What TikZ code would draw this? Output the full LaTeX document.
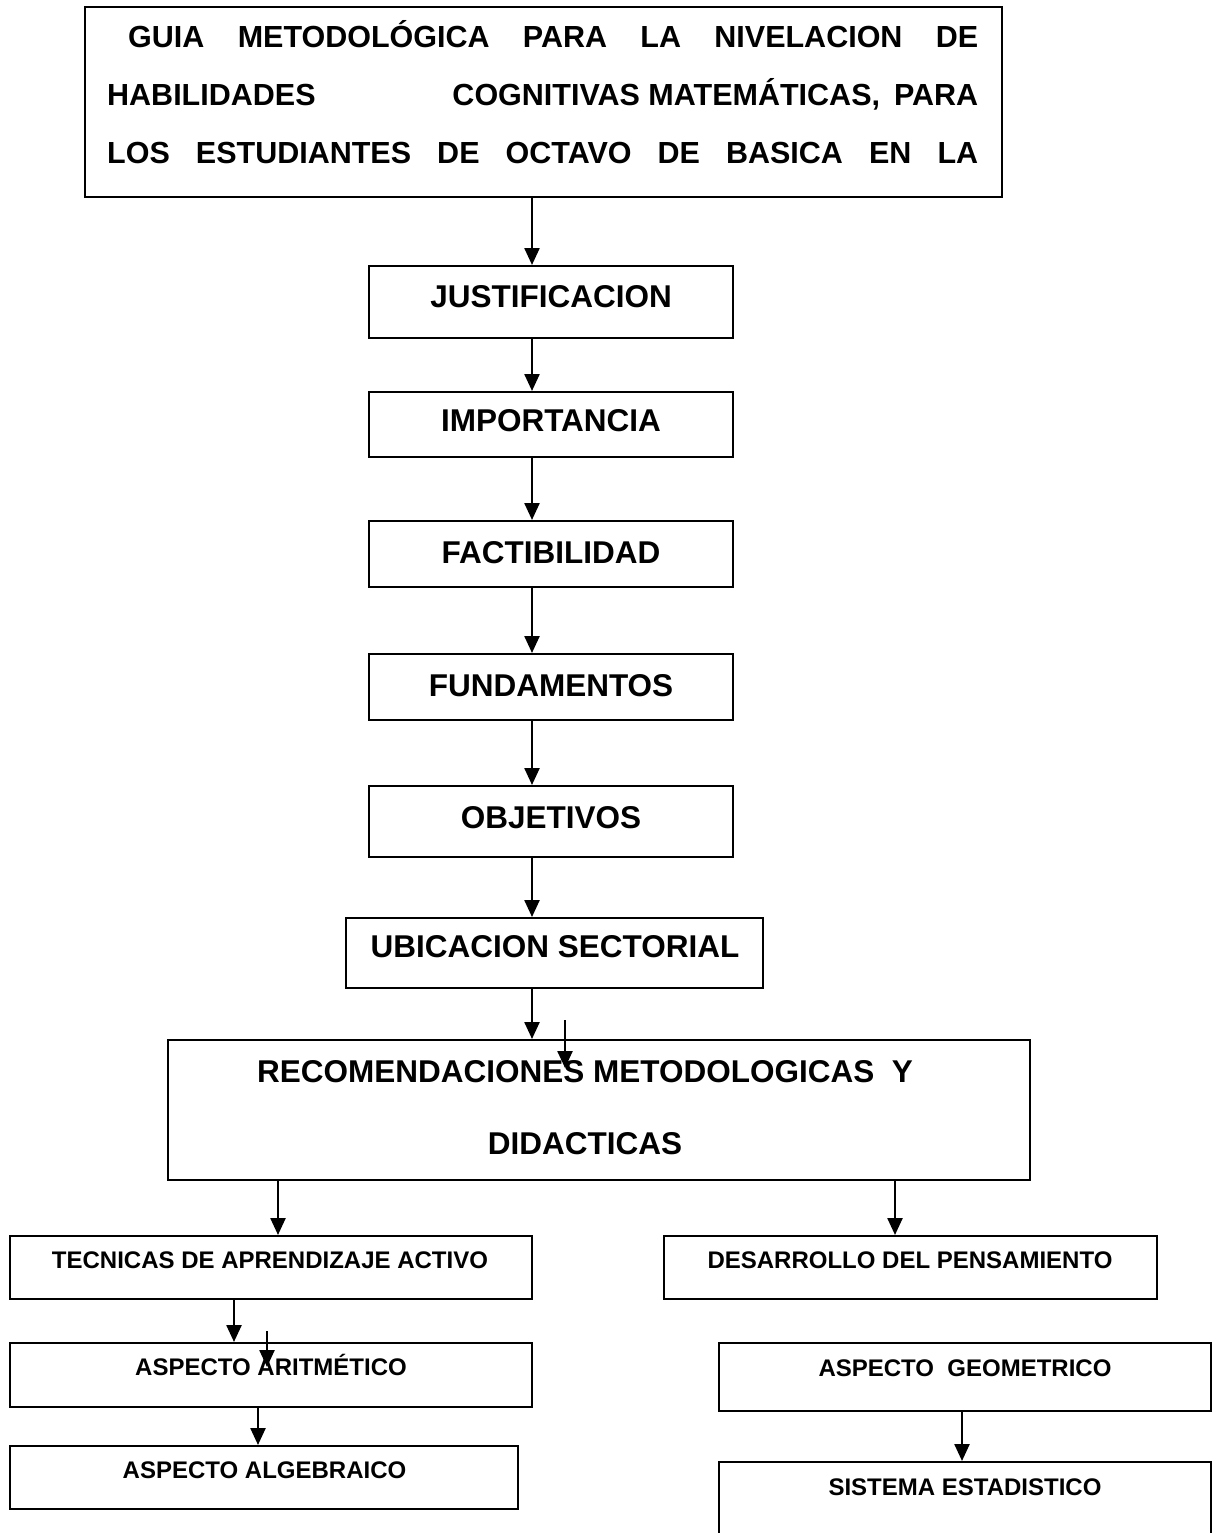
\documentclass[tikz,border=0pt]{standalone}
\usepackage{fontspec}
\setmainfont{Liberation Sans}
\usetikzlibrary{arrows.meta}
\begin{document}
\begin{tikzpicture}[x=1pt,y=-1pt,
  bx/.style={draw, line width=2pt, inner sep=0pt, rectangle},
  arr/.style={line width=2.4pt, -{Triangle[length=17pt,width=15pt]}},
  big/.style={font=\fontsize{31.5}{38}\selectfont\bfseries, inner sep=0pt, anchor=base},
  small/.style={font=\fontsize{24}{29}\selectfont\bfseries, inner sep=0pt, anchor=base},
  ttl/.style={font=\fontsize{30.5}{36}\selectfont\bfseries, inner sep=0pt, anchor=base west}]
\path[use as bounding box] (0,0) rectangle (1220,1533);
\clip (0,0) rectangle (1220,1533);

% boxes
\node[bx, minimum width=917pt, minimum height=190pt] (top) at (543.5,102) {};
\node[bx, minimum width=364pt, minimum height=72pt] (jus) at (551,302) {};
\node[bx, minimum width=364pt, minimum height=65pt] (imp) at (551,424.5) {};
\node[bx, minimum width=364pt, minimum height=66pt] (fac) at (551,554) {};
\node[bx, minimum width=364pt, minimum height=66pt] (fun) at (551,687) {};
\node[bx, minimum width=364pt, minimum height=71pt] (obj) at (551,821.5) {};
\node[bx, minimum width=417pt, minimum height=70pt] (ubi) at (554.5,953) {};
\node[bx, minimum width=862pt, minimum height=140pt] (rec) at (599,1110) {};
\node[bx, minimum width=522pt, minimum height=63pt] (tec) at (271,1267.5) {};
\node[bx, minimum width=493pt, minimum height=63pt] (des) at (910.5,1267.5) {};
\node[bx, minimum width=522pt, minimum height=64pt] (ari) at (271,1375) {};
\node[bx, minimum width=508pt, minimum height=63pt] (alg) at (264,1477.5) {};
\node[bx, minimum width=492pt, minimum height=68pt] (geo) at (965,1377) {};
\node[bx, minimum width=492pt, minimum height=98pt] (sis) at (965,1511) {};

% title text
\node[ttl] (t1) at (128,48) {\makebox[850pt][s]{GUIA METODOLÓGICA PARA LA NIVELACION DE}};
\node[ttl] (t2) at (107,106) {\hbox to 871pt{HABILIDADES\hfill COGNITIVAS MATEMÁTICAS,\hspace{14pt}PARA}};
\node[ttl] (t3) at (107,164) {\makebox[871pt][s]{LOS ESTUDIANTES DE OCTAVO DE BASICA EN LA}};

% box texts
\node[big] (jusT) at (551,307) {JUSTIFICACION};
\node[big] (impT) at (551,431) {IMPORTANCIA};
\node[big] (facT) at (551,563) {FACTIBILIDAD};
\node[big] (funT) at (551,696) {FUNDAMENTOS};
\node[big] (objT) at (551,828) {OBJETIVOS};
\node[big] (ubiT) at (555,957) {UBICACION SECTORIAL};
\node[big] (recT1) at (585,1082) {RECOMENDACIONES METODOLOGICAS\ \ Y};
\node[big] (recT2) at (585,1154) {DIDACTICAS};
\node[small] (tecT) at (270,1268.6) {TECNICAS DE APRENDIZAJE ACTIVO};
\node[small] (desT) at (910,1268.6) {DESARROLLO DEL PENSAMIENTO};
\node[small] (ariT) at (271,1375.6) {ASPECTO ARITMÉTICO};
\node[small] (geoT) at (965,1376.6) {ASPECTO\ \ GEOMETRICO};
\node[small] (algT) at (264.5,1478.6) {ASPECTO ALGEBRAICO};
\node[small] (sisT) at (965,1495.6) {SISTEMA ESTADISTICO};

% connector x positions
\coordinate (ax) at (532,0);
\coordinate (lx) at (278,0);
\coordinate (rx) at (895,0);
\coordinate (tx) at (234,0);
\coordinate (gx) at (258,0);
\coordinate (sx) at (962,0);
\coordinate (s1a) at (565,1020);
\coordinate (s1b) at (565,1068);
\coordinate (s2a) at (267,1331);
\coordinate (s2b) at (267,1367);

\draw[arr] (top.south -| ax) -- (jus.north -| ax);
\draw[arr] (jus.south -| ax) -- (imp.north -| ax);
\draw[arr] (imp.south -| ax) -- (fac.north -| ax);
\draw[arr] (fac.south -| ax) -- (fun.north -| ax);
\draw[arr] (fun.south -| ax) -- (obj.north -| ax);
\draw[arr] (obj.south -| ax) -- (ubi.north -| ax);
\draw[arr] (ubi.south -| ax) -- (rec.north -| ax);
\draw[arr] (s1a) -- (s1b);
\draw[arr] (rec.south -| lx) -- (tec.north -| lx);
\draw[arr] (rec.south -| rx) -- (des.north -| rx);
\draw[arr] (tec.south -| tx) -- (ari.north -| tx);
\draw[arr] (s2a) -- (s2b);
\draw[arr] (ari.south -| gx) -- (alg.north -| gx);
\draw[arr] (geo.south -| sx) -- (sis.north -| sx);
\end{tikzpicture}
\end{document}
